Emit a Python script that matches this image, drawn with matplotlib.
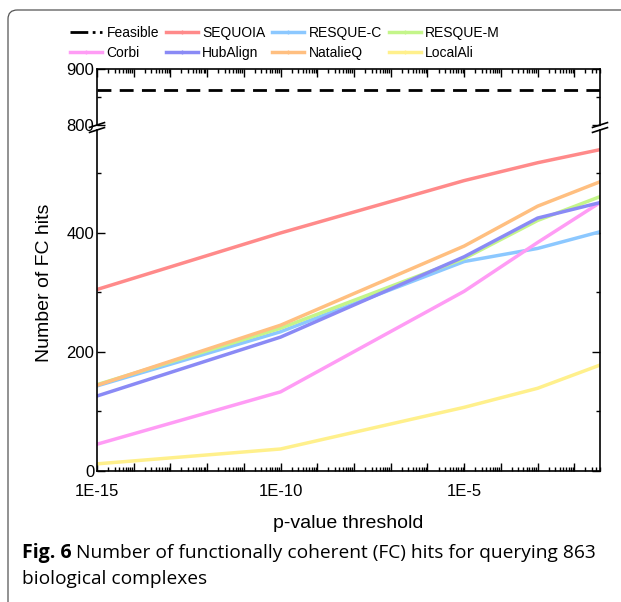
import numpy as np
import matplotlib
matplotlib.use("Agg")
import matplotlib.pyplot as plt
from matplotlib.lines import Line2D
from matplotlib.patches import FancyBboxPatch
from matplotlib.ticker import LogLocator, FixedLocator, NullFormatter, FuncFormatter

plt.rcParams['font.family'] = ['Liberation Sans', 'DejaVu Sans']

# p-value thresholds
p_values = [1e-15, 1e-10, 1e-5, 1e-3, 5e-2]
feasible = 863

methods = ['SEQUOIA', 'RESQUE-C', 'RESQUE-M', 'Corbi', 'HubAlign', 'NatalieQ', 'LocalAli']
sequoia = [305, 400, 488, 518, 540]
resque_c = [143, 234, 352, 374, 402]
resque_m = [145, 240, 357, 421, 461]
corbi = [45, 133, 302, 384, 451]
hubalign = [126, 225, 360, 425, 451]
natalieq = [144, 245, 378, 445, 486]
localali = [12, 37, 107, 139, 178]
colors = ['#ff8a8a', '#8cc8ff', '#c4f58a', '#ff9cf5', '#8a8af5', '#ffbf80', '#fff08c']

series = [sequoia, resque_c, resque_m, corbi, hubalign, natalieq, localali]

fig = plt.figure(figsize=(6.21, 6.02), dpi=100)

# caption frame
frame = FancyBboxPatch((8 / 621, -0.1), 1.2, (602 - 10) / 602 + 0.1,
                       boxstyle="round,pad=0,rounding_size=0.015",
                       transform=fig.transFigure, fill=False,
                       edgecolor='#555555', linewidth=0.9)
fig.patches.append(frame)

left, right = 97 / 621, 600 / 621
ax_top = fig.add_axes([left, (602 - 125) / 602, right - left, 56 / 602])
ax_bot = fig.add_axes([left, (602 - 471) / 602, right - left, 341 / 602])

for ax in (ax_top, ax_bot):
    ax.set_xscale('log')
    ax.set_xlim(1e-15, 5e-2)
    ax.xaxis.set_major_locator(FixedLocator([10.0 ** k for k in range(-15, -1)]))
    ax.xaxis.set_minor_locator(LogLocator(base=10, subs=np.arange(2, 10), numticks=100))
    ax.xaxis.set_minor_formatter(NullFormatter())
    ax.tick_params(which='both', direction='in', width=1, labelsize=12)
    ax.tick_params(which='major', length=6)
    ax.tick_params(which='minor', length=3)
    ax.tick_params(axis='y', pad=2)
    for s in ax.spines.values():
        s.set_linewidth(1.2)

# lower panel
for name, vals, c in zip(methods, series, colors):
    ax_bot.plot(p_values, vals, color=c, lw=2.5, label=name)
ax_bot.set_ylim(0, 573)
ax_bot.set_yticks([0, 200, 400])
ax_bot.yaxis.set_minor_locator(FixedLocator([100, 300, 500]))
ax_bot.spines['top'].set_visible(False)
ax_bot.tick_params(axis='y', which='both', left=True, right=True)
ax_bot.tick_params(axis='x', which='both', top=False, bottom=True, pad=9)
ax_bot.xaxis.set_major_formatter(FuncFormatter(
    lambda v, pos: '1E%d' % round(np.log10(v)) if round(np.log10(v)) % 5 == 0 else ''))

# upper panel
ax_top.axhline(feasible, color='black', lw=2, ls=(0, (5, 3)))
ax_top.set_ylim(800, 900)
ax_top.set_yticks([800, 900])
ax_top.yaxis.set_minor_locator(FixedLocator([850]))
ax_top.spines['bottom'].set_visible(False)
ax_top.tick_params(axis='y', which='both', left=True, right=True)
ax_top.tick_params(axis='x', which='both', top=True, bottom=False, labelbottom=False)

# break marks
d = 0.012
kw = dict(transform=fig.transFigure, color='black', lw=1.2, clip_on=False)
for xf in (left, right):
    for yp in (125, 130):
        yf = (602 - yp) / 602
        fig.add_artist(Line2D([xf - d, xf + d], [yf - 0.004, yf + 0.004], **kw))

ax_bot.set_xlabel('p-value threshold', fontsize=14, labelpad=12)
fig.text(0.072, (602 - 283) / 602, 'Number of FC hits', rotation=90,
         ha='center', va='center', fontsize=14)

# legend (filled column by column: two rows of four)
feas_h = Line2D([], [], color='black', lw=2, ls='-.')
mh = [Line2D([], [], color=c, lw=2.5, marker='|', markersize=3) for c in colors]
order = [(feas_h, 'Feasible'), (mh[3], methods[3]),
         (mh[0], methods[0]), (mh[4], methods[4]),
         (mh[1], methods[1]), (mh[5], methods[5]),
         (mh[2], methods[2]), (mh[6], methods[6])]
fig.legend([h for h, _ in order], [l for _, l in order], ncol=4, loc='center',
           bbox_to_anchor=(285 / 621, (602 - 43) / 602),
           frameon=False, fontsize=10, handlelength=2.3, handletextpad=0.3,
           columnspacing=0.5, labelspacing=0.45)

# caption
cap_y = (602 - 553) / 602
t = fig.text(22 / 621, cap_y, 'Fig. 6', fontsize=14, fontweight='bold',
             va='center', ha='left', family='Open Sans')
fig.canvas.draw()
bb = t.get_window_extent()
fig.text((bb.x1 + 4) / 621, cap_y,
         'Number of functionally coherent (FC) hits for querying 863',
         fontsize=13.8, va='center', ha='left', family='Open Sans')
fig.text(22 / 621, (602 - 579) / 602, 'biological complexes',
         fontsize=13.8, va='center', ha='left', family='Open Sans')

fig.savefig('out.png', dpi=100)
